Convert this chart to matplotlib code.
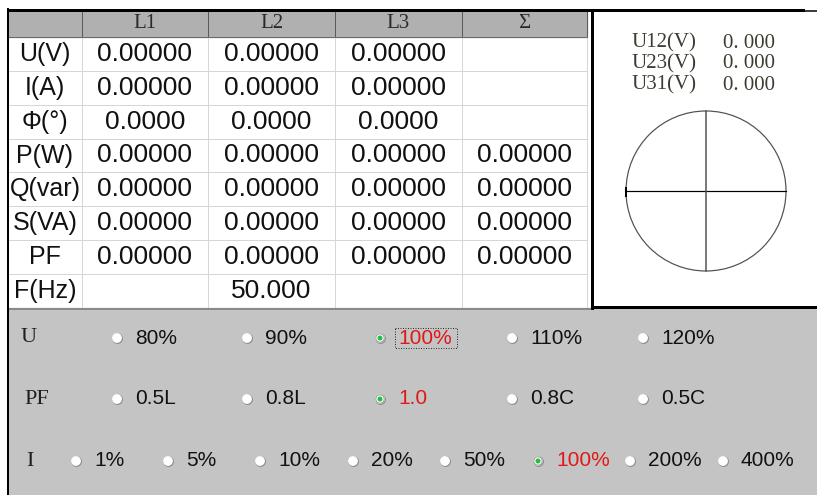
import matplotlib.pyplot as plt
from matplotlib.patches import Rectangle, Circle

# --- Daten ---
row_labels = ["U(V)", "I(A)", "Φ(°)", "P(W)", "Q(var)", "S(VA)", "PF", "F(Hz)"]
col_headers = ["L1", "L2", "L3", "Σ"]
table_vals = [
    ["0.00000", "0.00000", "0.00000", ""],
    ["0.00000", "0.00000", "0.00000", ""],
    ["0.0000", "0.0000", "0.0000", ""],
    ["0.00000", "0.00000", "0.00000", "0.00000"],
    ["0.00000", "0.00000", "0.00000", "0.00000"],
    ["0.00000", "0.00000", "0.00000", "0.00000"],
    ["0.00000", "0.00000", "0.00000", "0.00000"],
    ["", "50.000", "", ""],
]
line_labels = ["U12(V)", "U23(V)", "U31(V)"]
line_vals = ["0. 000", "0. 000", "0. 000"]

u_opts = ["80%", "90%", "100%", "110%", "120%"]
u_sel = 2
pf_opts = ["0.5L", "0.8L", "1.0", "0.8C", "0.5C"]
pf_sel = 2
i_opts = ["1%", "5%", "10%", "20%", "50%", "100%", "200%", "400%"]
i_sel = 5

# --- Layout (Pixel) ---
W, H = 817, 495
px = 0.72  # 1 px in pt bei dpi 100
y_edges = [10, 37, 71, 105, 139, 172, 206, 240, 274, 308]
x_edges = [8, 82, 208, 335, 462, 587]

fig = plt.figure(figsize=(W / 100, H / 100), dpi=100)
ax = fig.add_axes([0, 0, 1, 1])
ax.set_xlim(0, W)
ax.set_ylim(H, 0)
ax.axis("off")

sans = "Liberation Sans"
serif = "Liberation Serif"

# Hintergrund
ax.add_patch(Rectangle((0, 0), W, H, color="white", zorder=0))
ax.add_patch(Rectangle((8, 308), W - 8, H - 308, color="#c4c4c4", zorder=0))
ax.add_patch(Rectangle((8, 10), 587 - 8, 27, color="#b0b0b0", zorder=1))

# Tabelle: Gitter
for y in y_edges[2:-1]:
    ax.plot([8, 587], [y, y], color="#d6d6d6", lw=1 * px, zorder=2)
for x in x_edges[1:]:
    ax.plot([x, x], [37, 308], color="#d6d6d6", lw=1 * px, zorder=2)
    ax.plot([x, x], [10, 37], color="#5a5a5a", lw=1 * px, zorder=2)
ax.plot([8, 587], [37, 37], color="#6a6a6a", lw=1 * px, zorder=2)
ax.plot([8, 592], [308.5, 308.5], color="#8a8a8a", lw=2 * px, zorder=2)

# Kopfzeile
for j, h in enumerate(col_headers):
    xc = (x_edges[j + 1] + x_edges[j + 2]) / 2
    ax.text(xc, 24, h, family=serif, fontsize=15, color="#2a2a2a",
            ha="center", va="center", zorder=3)

# Zeilen
for i, lab in enumerate(row_labels):
    yc = (y_edges[i + 1] + y_edges[i + 2]) / 2
    ax.text(45, yc, lab, family=sans, fontsize=18, color="#111111",
            ha="center", va="center", zorder=3)
    for j, v in enumerate(table_vals[i]):
        if v:
            xc = (x_edges[j + 1] + x_edges[j + 2]) / 2
            ax.text(xc, yc, v, family=sans, fontsize=19, color="#111111",
                    ha="center", va="center", zorder=3)

# Rahmen
ax.plot([8, 803], [10, 10], color="black", lw=3 * px, zorder=4)
ax.plot([803, W], [11, 11], color="black", lw=1.5 * px, zorder=4)
ax.plot([8, 8], [9, H], color="black", lw=2 * px, zorder=4)
ax.plot([592, 592], [10, 308], color="black", lw=3 * px, zorder=4)
ax.plot([592, W], [307, 307], color="black", lw=3 * px, zorder=4)

# Rechtes Feld: Leiterspannungen
for k, (lab, v) in enumerate(zip(line_labels, line_vals)):
    y = [43, 64, 85][k]
    ax.text(632, y, lab, family=serif, fontsize=15, color="#3c3c30",
            ha="left", va="center", zorder=3)
    ax.text(723, y, v, family=serif, fontsize=15, color="#3c3c30",
            ha="left", va="center", zorder=3)

# Zeigerdiagramm
cx, cy, r = 706, 191, 80
ax.add_patch(Circle((cx, cy), r, fill=False, ec="#505050", lw=1.2 * px, zorder=3))
ax.plot([cx - r, cx + r], [cy, cy], color="black", lw=1.2 * px, zorder=3)
ax.plot([cx, cx], [cy - r, cy + r], color="#505050", lw=1.5 * px, zorder=3)
ax.plot([cx - r, cx - r], [cy - 3, cy + 5], color="black", lw=2 * px, zorder=3)


def radio(x, y, selected):
    ax.add_patch(Circle((x + 0.6, y + 0.6), 4.6, color="#8a8a8a", zorder=3))
    ax.add_patch(Circle((x, y), 4.2, color="white", zorder=4))
    if selected:
        ax.add_patch(Circle((x, y), 4.2, fill=False, ec="#9a9a9a", lw=1 * px, zorder=5))
        ax.add_patch(Circle((x, y), 1.8, color="#20c040", zorder=5))


def option_row(label, lab_x, y, opts, sel, xs):
    ax.text(lab_x, y, label, family=serif, fontsize=16, color="#202020",
            ha="left", va="center", zorder=3)
    for k, (o, x) in enumerate(zip(opts, xs)):
        radio(x, y, k == sel)
        col = "#e01818" if k == sel else "#111111"
        ax.text(x + 18, y, o, family=sans, fontsize=15, color=col,
                ha="left", va="center", zorder=3)


opt_x5 = [117, 247, 380, 512, 643]
opt_x8 = [76, 168, 260, 353, 445, 538, 630, 723]
option_row("U", 21, 338, u_opts, u_sel, opt_x5)
option_row("PF", 24, 399, pf_opts, pf_sel, opt_x5)
option_row("I", 26, 461, i_opts, i_sel, opt_x8)

# Fokusrahmen um 100%
ax.add_patch(Rectangle((395, 328), 62, 20, fill=False, ec="#303030",
                       lw=1 * px, ls=(0, (1, 1.5)), zorder=5))

fig.savefig("out.png", dpi=100)
